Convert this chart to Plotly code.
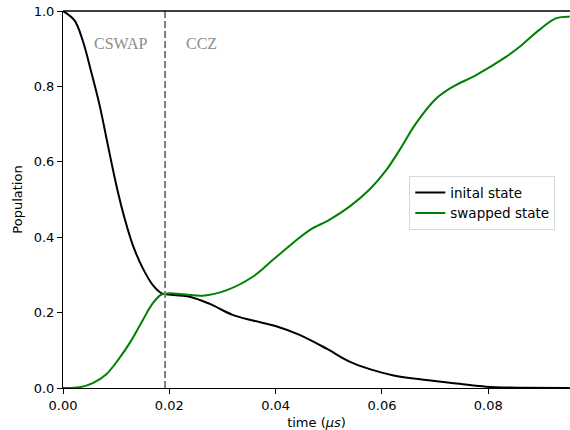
import plotly.graph_objects as go

# Data
t_init = [0.0, 0.00216, 0.00372, 0.0053, 0.00687, 0.00843, 0.0100, 0.01157, 0.01313, 0.0150,
          0.0169, 0.01847, 0.0192, 0.0238, 0.0276, 0.0319, 0.0357, 0.0401, 0.0445, 0.0495,
          0.0539, 0.0577, 0.0620, 0.0683, 0.0746, 0.0796, 0.0840, 0.0953]
p_init = [1.0, 0.975, 0.921, 0.839, 0.751, 0.645, 0.540, 0.451, 0.379, 0.318,
          0.273, 0.252, 0.249, 0.242, 0.223, 0.194, 0.179, 0.164, 0.141, 0.105,
          0.070, 0.050, 0.034, 0.021, 0.011, 0.0035, 0.001, 0.0]

t_swap = [0.0, 0.0031, 0.0056, 0.0081, 0.0106, 0.0128, 0.0150, 0.0169, 0.0185, 0.0200,
          0.0230, 0.0263, 0.0307, 0.0357, 0.0395, 0.0432, 0.0464, 0.0501, 0.0539, 0.0577,
          0.0608, 0.0633, 0.0664, 0.0702, 0.0733, 0.0777, 0.0834, 0.0859, 0.0896, 0.0928, 0.0953]
p_swap = [0.0, 0.002, 0.013, 0.036, 0.079, 0.125, 0.180, 0.225, 0.248, 0.251,
          0.248, 0.245, 0.259, 0.295, 0.340, 0.384, 0.419, 0.446, 0.481, 0.527,
          0.578, 0.631, 0.702, 0.768, 0.799, 0.830, 0.879, 0.905, 0.950, 0.981, 0.985]

t_gate = 0.0192
gate_labels = ["CSWAP", "CCZ"]
gate_label_x = [0.0108, 0.0260]
gate_label_y = 0.915

x_ticks = [0.0, 0.02, 0.04, 0.06, 0.08]
x_tick_text = ["0.00", "0.02", "0.04", "0.06", "0.08"]
y_ticks = [0.0, 0.2, 0.4, 0.6, 0.8, 1.0]
y_tick_text = ["0.0", "0.2", "0.4", "0.6", "0.8", "1.0"]

fig = go.Figure()
fig.add_trace(go.Scatter(x=t_init, y=p_init, mode="lines", name="inital state",
                         line=dict(color="black", width=2, shape="spline", smoothing=1.0)))
fig.add_trace(go.Scatter(x=t_swap, y=p_swap, mode="lines", name="swapped state",
                         line=dict(color="#008000", width=2, shape="spline", smoothing=1.0)))

fig.add_shape(type="line", xref="x", yref="paper", x0=t_gate, x1=t_gate, y0=0, y1=1,
              line=dict(color="#7f7f7f", width=2, dash="7px,3px"))
fig.add_shape(type="line", xref="paper", yref="paper", x0=0, x1=1, y0=1, y1=1,
              line=dict(color="black", width=1.5))

for lbl, lx in zip(gate_labels, gate_label_x):
    fig.add_annotation(x=lx, y=gate_label_y, xref="x", yref="y", text=lbl, showarrow=False,
                       font=dict(family="Liberation Serif", size=16, color="#8c8c8c"))

axis_font = dict(family="DejaVu Sans", size=13, color="black")
fig.update_layout(
    width=570, height=430,
    margin=dict(l=63, r=0, t=11, b=42),
    plot_bgcolor="white", paper_bgcolor="white",
    font=axis_font,
    showlegend=True,
    legend=dict(x=0.683, y=0.562, xanchor="left", yanchor="top",
                bordercolor="#d9d9d9", borderwidth=1, bgcolor="rgba(255,255,255,0.8)",
                font=dict(family="DejaVu Sans", size=13.5, color="black")),
    xaxis=dict(range=[0, 0.09537], tickvals=x_ticks, ticktext=x_tick_text,
               showgrid=False, zeroline=False, showline=True, linecolor="black", linewidth=1,
               ticks="outside", ticklen=5, tickcolor="black",
               title=dict(text="time (<i>μs</i>)", standoff=6, font=axis_font)),
    yaxis=dict(range=[0, 1], tickvals=y_ticks, ticktext=y_tick_text,
               showgrid=False, zeroline=False, showline=True, linecolor="black", linewidth=1,
               ticks="outside", ticklen=5, tickcolor="black",
               title=dict(text="Population", standoff=8, font=axis_font)),
)

fig.write_html("out.html", config={"displayModeBar": False},
               post_script="document.body.style.margin='0';document.body.style.overflow='hidden';")
